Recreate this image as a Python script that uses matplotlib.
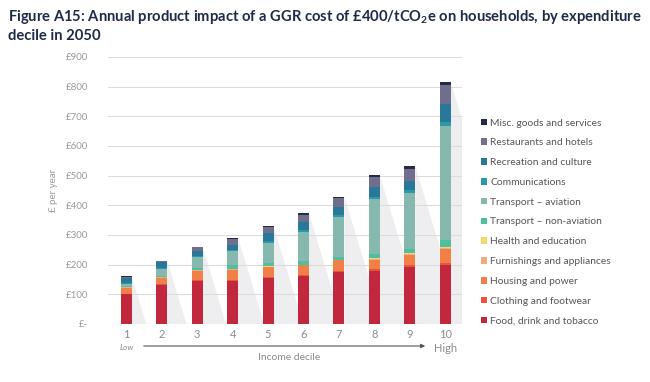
import matplotlib.pyplot as plt
import matplotlib.patches as mpatches
import numpy as np

plt.rcParams['font.family'] = ['Lato', 'DejaVu Sans']
plt.rcParams['mathtext.default'] = 'regular'

deciles = ['1', '2', '3', '4', '5', '6', '7', '8', '9', '10']

categories = ['Food, drink and tobacco', 'Clothing and footwear', 'Housing and power',
              'Furnishings and appliances', 'Health and education',
              'Transport \u2013 non-aviation', 'Transport \u2013 aviation',
              'Communications', 'Recreation and culture', 'Restaurants and hotels',
              'Misc. goods and services']

food = [100, 130, 145, 145, 154, 160, 176, 180, 193, 199]
clothing = [2, 3, 3, 3, 4, 4, 4, 5, 6, 8]
housing = [20, 22, 32, 34, 33, 33, 34, 31, 35, 46]
furnishings = [2, 2, 2, 2, 2, 2, 2, 2, 2, 2]
health = [1, 1, 1, 1, 1, 1, 1, 3, 4, 6]
non_aviation = [3, 4, 5, 13, 11, 13, 10, 15, 12, 22]
aviation = [8, 24, 37, 47, 69, 97, 133, 184, 188, 384]
communications = [3, 4, 4, 5, 6, 8, 8, 8, 10, 12]
recreation = [15, 18, 18, 17, 26, 26, 25, 33, 33, 62]
restaurants = [5, 4, 12, 19, 20, 24, 32, 34, 40, 64]
misc = [1, 1, 1, 5, 4, 5, 4, 6, 9, 11]

series = [food, clothing, housing, furnishings, health, non_aviation, aviation,
          communications, recreation, restaurants, misc]
colors = ['#c1283d', '#e9553b', '#f07f48', '#f2ab80', '#f9d66c', '#4ebf9f',
          '#86b8ae', '#2a9aa8', '#2a7899', '#6f6f8b', '#262a4a']

fig = plt.figure(figsize=(6.5, 3.82), dpi=100)
ax = fig.add_axes([0.166, 0.152, 0.545, 0.699])

x = np.arange(1, len(deciles) + 1)
w = 0.31
totals = np.sum(np.array(series), axis=0)

# grey "shadow" behind each bar
k = 0.00254
for xi, t in zip(x, totals):
    xr = xi + w / 2
    ax.add_patch(mpatches.Polygon([(xr, t), (xr + t * k, 0), (xr, 0)],
                                  closed=True, facecolor='#eeeef0', edgecolor='none', zorder=1))

bottom = np.zeros(len(x))
handles = []
for vals, c, lab in zip(series, colors, categories):
    b = ax.bar(x, vals, w, bottom=bottom, color=c, label=lab, zorder=3)
    handles.append(b)
    bottom += np.array(vals)

ax.set_xlim(0.48, 10.48)
ax.set_ylim(0, 900)
ax.set_yticks(range(0, 1000, 100))
ax.set_yticklabels(['£-'] + ['£%d' % v for v in range(100, 1000, 100)])
ax.set_xticks(x)
ax.set_xticklabels(deciles)
ax.tick_params(axis='y', length=0, pad=14, labelsize=7, labelcolor='#9a9a9a')
ax.tick_params(axis='x', length=0, pad=4, labelsize=8, labelcolor='#8a8a8a')
ax.grid(axis='y', color='#dcdcdc', linewidth=0.8, zorder=2)
ax.set_axisbelow(False)
for s in ax.spines.values():
    s.set_visible(False)
ax.axhline(0, color='#cfcfcf', linewidth=0.8, zorder=2)

ax.set_ylabel('£ per year', fontsize=7, color='#9a9a9a', labelpad=6)

fig.text(127 / 650, 1 - 347 / 382, 'Low', fontsize=6, color='#8a8a8a', style='italic',
         ha='center', va='center')
fig.text(446 / 650, 1 - 348 / 382, 'High', fontsize=8, color='#8a8a8a', ha='center', va='center')
fig.text(289 / 650, 1 - 357 / 382, 'Income decile', fontsize=7.5, color='#8a8a8a',
         ha='center', va='center')
fig.add_artist(mpatches.FancyArrowPatch((141 / 650, 1 - 346 / 382), (428 / 650, 1 - 346 / 382),
                                        transform=fig.transFigure, arrowstyle='-|>',
                                        mutation_scale=6, color='#555555', linewidth=0.8))

fig.text(8 / 650, 1 - 17 / 382,
         'Figure A15: Annual product impact of a GGR cost of £400/tCO$_2$e on households, by expenditure',
         fontsize=10.6, fontweight='bold', color='#1e2a48', ha='left', va='center')
fig.text(8 / 650, 1 - 36 / 382, 'decile in 2050',
         fontsize=10.6, fontweight='bold', color='#1e2a48', ha='left', va='center')

ax.legend(handles[::-1], categories[::-1], loc='center left',
          bbox_to_anchor=(476 / 650, 1 - 222 / 382), bbox_transform=fig.transFigure,
          frameon=False, fontsize=7.4, labelcolor='#555555', handlelength=0.6,
          handleheight=0.6, handletextpad=0.3, labelspacing=1.05, borderpad=0)

fig.savefig('out.png', dpi=100)
